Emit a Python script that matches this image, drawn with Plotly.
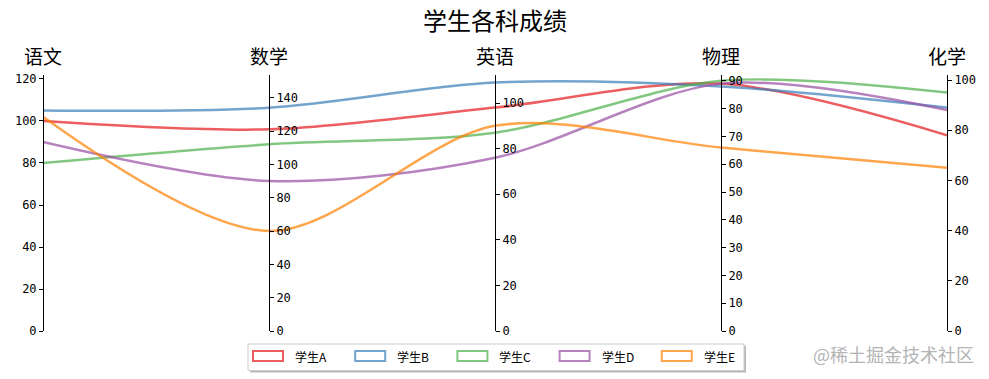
import plotly.graph_objects as go

# ---------------- data ----------------
subjects = ["语文", "数学", "英语", "物理", "化学"]
students = ["学生A", "学生B", "学生C", "学生D", "学生E"]
score_a = [100, 121, 98, 89, 78]
score_b = [105, 134, 109, 88, 89]
score_c = [80, 112, 87, 90, 95]
score_d = [90, 90, 76, 89, 88]
score_e = [102, 60, 90, 66, 65]

# per-axis scale settings
axis_max = [121.9, 153.6, 112.3, 92.1, 102.0]
tick_top = [120, 140, 100, 90, 100]
tick_step = [20, 20, 20, 10, 20]

colors = ["rgba(228,26,28,0.7)", "rgba(55,126,184,0.7)", "rgba(77,175,74,0.7)",
          "rgba(152,78,163,0.7)", "rgba(255,127,0,0.7)"]

all_scores = [score_a, score_b, score_c, score_d, score_e]
positions = list(range(len(subjects)))
n_ax = len(subjects)

# page geometry (pixels)
W, H = 989, 379
ML, MR, MT, MB = 43, 42, 75, 48
PW, PH = W - ML - MR, H - MT - MB


def pxx(p):
    return (p - ML) / PW


def pxy(p):
    return (MT + PH - p) / PH


fig = go.Figure()

for name, scores, col in zip(students, all_scores, colors):
    norm = [v / m for v, m in zip(scores, axis_max)]
    fig.add_trace(go.Scatter(
        x=positions, y=norm, name=name, mode="lines",
        line=dict(color=col, width=2.5, shape="spline", smoothing=0.9),
        customdata=scores, hovertemplate="%{customdata}<extra>" + name + "</extra>",
        xaxis="x", yaxis="y", showlegend=False,
    ))

# invisible traces to register each subject axis
for i in range(n_ax):
    fig.add_trace(go.Scatter(x=[None], y=[None], xaxis="x",
                             yaxis="y" + str(i + 2), showlegend=False,
                             hoverinfo="skip"))

tick_font = dict(family="DejaVu Sans Mono", size=12, color="black")
layout_axes = {}
for i in range(n_ax):
    layout_axes["yaxis" + str(i + 2)] = dict(
        overlaying="y", anchor="free", position=i / (n_ax - 1),
        range=[0, axis_max[i]],
        tickvals=list(range(0, tick_top[i] + 1, tick_step[i])),
        side="left" if i == 0 else "right",
        showline=True, linecolor="black", linewidth=1,
        ticks="outside", ticklen=4, tickwidth=1, tickcolor="black",
        showgrid=False, zeroline=False, tickfont=tick_font,
        fixedrange=True,
    )

annotations = []
for i, s in enumerate(subjects):
    annotations.append(dict(
        text=s, x=positions[i], xref="x", y=1, yref="paper",
        yanchor="middle", xanchor="center", yshift=20, showarrow=False,
        font=dict(family="Noto Sans CJK SC", size=19, color="black")))
annotations.append(dict(
    text="@稀土掘金技术社区", x=pxx(976), xref="paper", xanchor="right",
    y=pxy(354), yref="paper", yanchor="middle", showarrow=False,
    font=dict(family="Noto Sans CJK SC", size=18, color="#b4b4b4")))

# legend (drawn as a boxed legend with outlined swatches)
shapes = []
lg_x0, lg_x1, lg_y0, lg_y1 = 248, 744, 344, 370.5
shapes.append(dict(type="rect", xref="paper", yref="paper",
                   x0=pxx(lg_x0 + 2), x1=pxx(lg_x1 + 2), y0=pxy(lg_y0 + 2), y1=pxy(lg_y1 + 2),
                   fillcolor="rgba(0,0,0,0.28)", line=dict(width=0), layer="above"))
shapes.append(dict(type="rect", xref="paper", yref="paper",
                   x0=pxx(lg_x0), x1=pxx(lg_x1), y0=pxy(lg_y0), y1=pxy(lg_y1),
                   fillcolor="white", line=dict(color="#cccccc", width=1), layer="above"))
item_pitch = 102.2
for i, (name, col) in enumerate(zip(students, colors)):
    sx = 253 + i * item_pitch
    shapes.append(dict(type="rect", xref="paper", yref="paper",
                       x0=pxx(sx), x1=pxx(sx + 30), y0=pxy(351), y1=pxy(361),
                       fillcolor="white", line=dict(color=col, width=2), layer="above"))
    annotations.append(dict(
        text=name, x=pxx(sx + 40), xref="paper", xanchor="left",
        y=pxy(356.5), yref="paper", yanchor="middle", showarrow=False,
        font=dict(family="Noto Sans CJK SC", size=12, color="black")))

fig.update_layout(
    width=W, height=H,
    margin=dict(l=ML, r=MR, t=MT, b=MB),
    paper_bgcolor="white", plot_bgcolor="white",
    title=dict(text="学生各科成绩", x=0.5, xref="paper", xanchor="center",
               y=1 - 22 / H, yref="container", yanchor="middle",
               font=dict(family="Noto Sans CJK SC", size=24, color="black")),
    xaxis=dict(range=[0, n_ax - 1], visible=False, fixedrange=True),
    yaxis=dict(range=[0, 1], visible=False, fixedrange=True),
    showlegend=False,
    annotations=annotations,
    shapes=shapes,
    **layout_axes,
)

fig.write_html("out.html", config={"displayModeBar": False},
               post_script="document.body.style.margin='0px';")
